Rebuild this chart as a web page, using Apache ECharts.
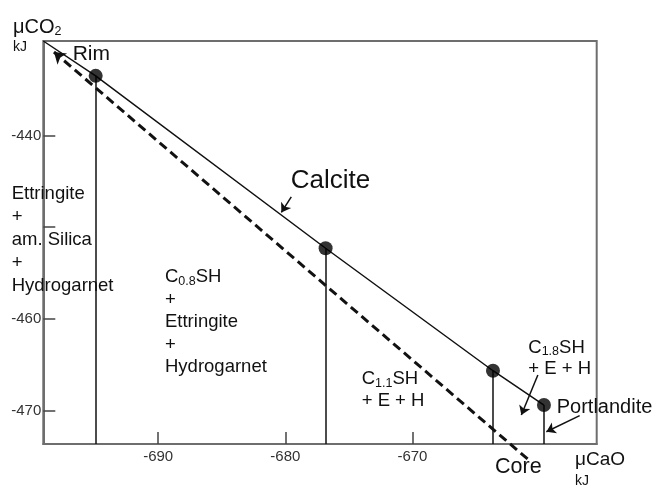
<!DOCTYPE html>
<html><head><meta charset="utf-8">
<script src="https://cdn.jsdelivr.net/npm/echarts@6/dist/echarts.min.js"></script>
<style>html,body{margin:0;padding:0;background:#fff}#c{width:656px;height:485px}</style>
</head><body><div id="c"></div>
<script>
// ---- data (kJ) ----
const xTickValues = [-690, -680, -670];
const yTickValues = [-440, -450, -460, -470];
const yLabelValues = [-440, -460, -470];
const xExtent = [-699.04, -655.5];
const yExtent = [-473.65, -429.7];
const calciteOrigin = [-699.04, -429.7];
const boundaryCaO = [-694.92, -676.83, -663.66, -659.65];   // Rim, C0.8/C1.1, C1.1/C1.8, Portlandite
const boundaryCO2 = [-433.5, -452.3, -465.66, -469.4];
const pathCaO = [-660.94, -698.2];  // core -> rim
const pathCO2 = [-475.28, -430.9];
const calciteArrowCaO = [-679.53, -680.31];
const calciteArrowCO2 = [-446.69, -448.40];
const c18ArrowCaO = [-660.13, -661.43];
const c18ArrowCO2 = [-466.13, -470.49];
const portArrowCaO = [-656.84, -659.46];
const portArrowCO2 = [-470.56, -472.31];

const FONT = 'Liberation Sans, Arial, Helvetica, sans-serif';
const INK = '#111';

const calciteLine = [calciteOrigin].concat(boundaryCaO.map((x, i) => [x, boundaryCO2[i]]));
const dots = boundaryCaO.map((x, i) => [x, boundaryCO2[i]]);
const verticals = boundaryCaO.map((x, i) => ({coords: [[x, boundaryCO2[i]], [x, yExtent[0]]]}));
const seg = (xs, ys) => ({coords: [[xs[0], ys[0]], [xs[1], ys[1]]]});

function txt(x, y, text, size, extra) {
  return {
    type: 'text', x: x, y: y, silent: true, z: 100,
    style: Object.assign({text: text, fontSize: size, fontFamily: FONT, fill: INK,
      align: 'left', verticalAlign: 'middle'}, extra || {})
  };
}
function richTxt(x, y, text, size, lh, vAlign) {
  return {
    type: 'text', x: x, y: y, silent: true, z: 100,
    style: {
      text: text, fontFamily: FONT, fill: INK, fontSize: size, align: 'left', verticalAlign: vAlign,
      rich: {
        n: {fontSize: size, lineHeight: lh, fontFamily: FONT, fill: INK},
        s: {fontSize: 12.5, lineHeight: 8, verticalAlign: 'bottom', fontFamily: FONT, fill: INK}
      }
    }
  };
}

const chart = echarts.init(document.getElementById('c'), null, {renderer: 'canvas'});
chart.setOption({
  animation: false,
  backgroundColor: '#fff',
  grid: {left: 43.3, right: 59.3, top: 41, bottom: 41, show: true, borderColor: '#6e6e6e', borderWidth: 2,
         containLabel: false, outerBoundsMode: 'none'},
  xAxis: {
    type: 'value', min: xExtent[0], max: xExtent[1],
    axisLine: {onZero: false, lineStyle: {color: '#6e6e6e', width: 2}},
    axisTick: {inside: true, length: 12, customValues: xTickValues, lineStyle: {color: '#444', width: 1.5}},
    axisLabel: {customValues: xTickValues, fontSize: 15, fontFamily: FONT, color: '#333', margin: 5},
    splitLine: {show: false}
  },
  yAxis: {
    type: 'value', min: yExtent[0], max: yExtent[1],
    axisLine: {onZero: false, lineStyle: {color: '#6e6e6e', width: 2}},
    axisTick: {inside: true, length: 12, customValues: yTickValues, lineStyle: {color: '#444', width: 1.5}},
    axisLabel: {customValues: yLabelValues, fontSize: 15, fontFamily: FONT, color: '#333', margin: 2},
    splitLine: {show: false}
  },
  series: [
    {type: 'line', name: 'Calcite', data: calciteLine, symbol: 'none', silent: true,
     lineStyle: {color: INK, width: 1.5}, z: 3},
    {type: 'lines', coordinateSystem: 'cartesian2d', data: verticals, silent: true,
     lineStyle: {color: INK, width: 1.5, opacity: 1}, z: 2},
    {type: 'scatter', data: dots, symbolSize: 14, itemStyle: {color: '#000'}, silent: true, z: 5},
    {type: 'lines', coordinateSystem: 'cartesian2d', clip: false, silent: true,
     data: [seg(pathCaO, pathCO2)], symbol: ['none', 'arrow'], symbolSize: 11,
     lineStyle: {color: '#111', width: 3, type: [9, 5], opacity: 1}, z: 4},
    {type: 'lines', coordinateSystem: 'cartesian2d', clip: false, silent: true,
     data: [seg(calciteArrowCaO, calciteArrowCO2), seg(c18ArrowCaO, c18ArrowCO2), seg(portArrowCaO, portArrowCO2)],
     symbol: ['none', 'arrow'], symbolSize: 9,
     lineStyle: {color: INK, width: 1.5, opacity: 1}, z: 4}
  ],
  graphic: [
    richTxt(13, 27, '{n|μCO}{s|2}', 20, 22, 'middle'),
    txt(13, 46.7, 'kJ', 14),
    txt(72.7, 54.3, 'Rim', 21),
    txt(290.7, 180.5, 'Calcite', 26),
    txt(11.7, 182.5, 'Ettringite\n+\nam. Silica\n+\nHydrogarnet', 18.5, {verticalAlign: 'top', lineHeight: 23}),
    richTxt(165, 265.7, '{n|C}{s|0.8}{n|SH}\n{n|+}\n{n|Ettringite}\n{n|+}\n{n|Hydrogarnet}', 18.5, 22.5, 'top'),
    richTxt(361.7, 367.5, '{n|C}{s|1.1}{n|SH}\n{n|+ E + H}', 18.5, 22.5, 'top'),
    richTxt(528.3, 337, '{n|C}{s|1.8}{n|SH}\n{n|+ E + H}', 18.5, 21.5, 'top'),
    txt(556.7, 407.3, 'Portlandite', 20),
    txt(495, 467.5, 'Core', 21.5),
    txt(575, 459.8, 'μCaO', 19),
    txt(575, 481, 'kJ', 14)
  ]
});
</script>
</body></html>
